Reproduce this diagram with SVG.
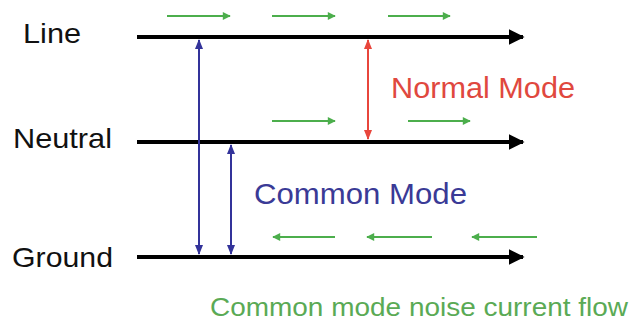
<svg xmlns="http://www.w3.org/2000/svg" width="632" height="321" viewBox="0 0 632 321">
<defs>
<marker id="bk" viewBox="0 0 10 10" refX="9" refY="5" markerWidth="4" markerHeight="4" orient="auto" markerUnits="strokeWidth"><path d="M0,0 L10,5 L0,10 z" fill="#000"/></marker>
<marker id="bl" viewBox="0 0 10 10" refX="9" refY="5" markerWidth="5" markerHeight="5" orient="auto-start-reverse" markerUnits="strokeWidth"><path d="M0,1 L10,5 L0,9 z" fill="#33339a"/></marker>
<marker id="rd" viewBox="0 0 10 10" refX="9" refY="5" markerWidth="5" markerHeight="5" orient="auto-start-reverse" markerUnits="strokeWidth"><path d="M0,1 L10,5 L0,9 z" fill="#e8463c"/></marker>
<marker id="gr" viewBox="0 0 10 10" refX="9" refY="5" markerWidth="5" markerHeight="4" orient="auto" markerUnits="strokeWidth"><path d="M0,0 L10,5 L0,10 z" fill="#4cae4c"/></marker>
</defs>
<style>
text{font-family:"Liberation Sans",Arial,sans-serif}
.lbl{font-size:28px;fill:#111}
.wire{stroke:#000;stroke-width:4;fill:none}
.bl{stroke:#33339a;stroke-width:2;fill:none}
.rd{stroke:#e8463c;stroke-width:2;fill:none}
.gr{stroke:#4cae4c;stroke-width:2;fill:none}
</style>
<g id="line"><text class="lbl" x="23" y="43" textLength="58" lengthAdjust="spacingAndGlyphs">Line</text></g>
<g id="neutral"><text class="lbl" x="13" y="148" textLength="99" lengthAdjust="spacingAndGlyphs">Neutral</text></g>
<g id="ground"><text class="lbl" x="12" y="267" textLength="101" lengthAdjust="spacingAndGlyphs">Ground</text></g>
<g id="normal-mode"><text x="391" y="98" textLength="184" lengthAdjust="spacingAndGlyphs" style="font-size:29px;fill:#e0483e">Normal Mode</text></g>
<g id="common-mode"><text x="254" y="204" textLength="213" lengthAdjust="spacingAndGlyphs" style="font-size:29px;fill:#3a3a96">Common Mode</text></g>
<g id="noise-label"><text x="210" y="316" textLength="418" lengthAdjust="spacingAndGlyphs" style="font-size:26px;fill:#5aaa55">Common mode noise current flow</text></g>
<g id="connectors">
<line class="wire" x1="137" y1="37" x2="523" y2="37" marker-end="url(#bk)"/>
<line class="wire" x1="137" y1="142" x2="523" y2="142" marker-end="url(#bk)"/>
<line class="wire" x1="137" y1="257" x2="523" y2="257" marker-end="url(#bk)"/>
<line class="bl" x1="199" y1="40" x2="199" y2="254" marker-start="url(#bl)" marker-end="url(#bl)"/>
<line class="bl" x1="231" y1="145" x2="231" y2="254" marker-start="url(#bl)" marker-end="url(#bl)"/>
<line class="rd" x1="368" y1="40" x2="368" y2="139" marker-start="url(#rd)" marker-end="url(#rd)"/>
<line class="gr" x1="167" y1="16" x2="230" y2="16" marker-end="url(#gr)"/>
<line class="gr" x1="272" y1="16" x2="335" y2="16" marker-end="url(#gr)"/>
<line class="gr" x1="388" y1="16" x2="450" y2="16" marker-end="url(#gr)"/>
<line class="gr" x1="272" y1="121" x2="335" y2="121" marker-end="url(#gr)"/>
<line class="gr" x1="408" y1="121" x2="470" y2="121" marker-end="url(#gr)"/>
<line class="gr" x1="335" y1="237" x2="273" y2="237" marker-end="url(#gr)"/>
<line class="gr" x1="432" y1="237" x2="367" y2="237" marker-end="url(#gr)"/>
<line class="gr" x1="537" y1="237" x2="472" y2="237" marker-end="url(#gr)"/>
</g>
</svg>
